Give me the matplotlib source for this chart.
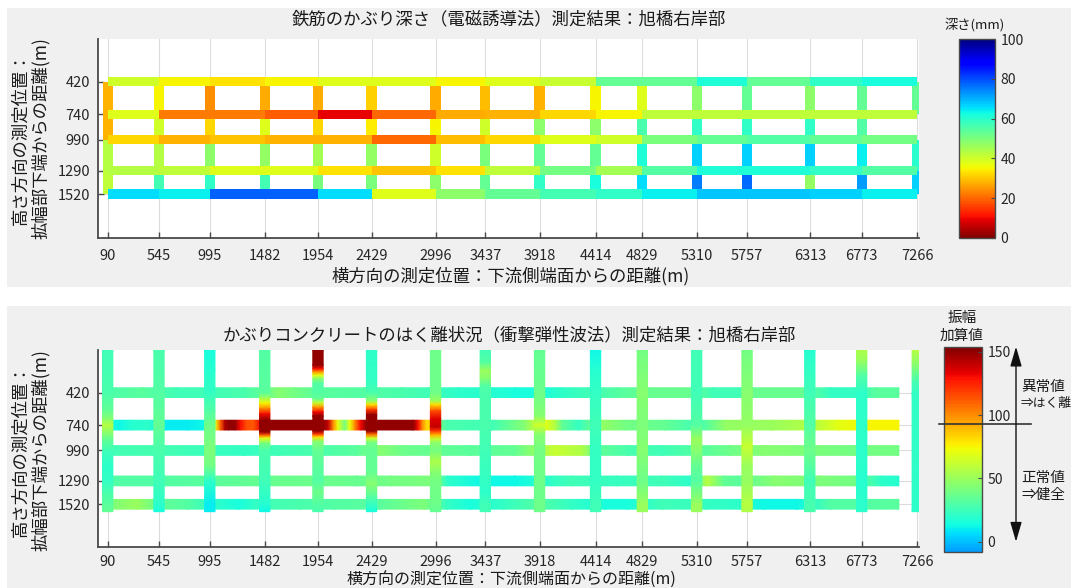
import numpy as np
import matplotlib
matplotlib.use("Agg")
import matplotlib.pyplot as plt
from matplotlib.colors import Normalize, ListedColormap
from matplotlib.patches import Rectangle, FancyArrowPatch, ArrowStyle
from matplotlib.lines import Line2D
from matplotlib.cm import ScalarMappable

plt.rcParams['font.family'] = ['Noto Sans CJK JP', 'DejaVu Sans']

# ---------------- data ----------------
x_pos = [90, 545, 995, 1482, 1954, 2429, 2996, 3437, 3918, 4414, 4829, 5310, 5757, 6313, 6773, 7266]
y_pos = [420, 740, 990, 1290, 1520]

# top chart: cover depth (mm), horizontal segments between columns (rows 420..1520)
top_h = [
    [40, 35, 33, 35, 38, 38, 35, 38, 41, 53, 53, 61, 53, 59, 62],
    [38, 22, 22, 19, 9, 20, 27, 28, 32, 35, 42, 42, 42, 42, 42],
    [32, 28, 30, 28, 28, 20, 29, 32, 38, 40, 50, 53, 55, 53, 51],
    [43, 42, 38, 38, 33, 30, 33, 42, 51, 45, 55, 61, 61, 59, 55],
    [66, 64, 78, 78, 66, 38, 48, 53, 57, 59, 64, 68, 68, 67, 64],
]
# top chart: vertical segments between rows, one list per column
top_v = [
    [28, 28, 43, 42], [35, 40, 43, 57], [24, 32, 48, 59], [27, 38, 47, 57],
    [27, 32, 45, 50], [31, 34, 47, 50], [27, 35, 40, 48], [29, 40, 50, 53],
    [28, 48, 53, 59], [35, 48, 53, 62], [38, 56, 61, 66], [48, 59, 67, 75],
    [53, 59, 67, 77], [48, 59, 67, 47], [53, 55, 64, 72], [53, np.nan, 60, 67],
]

# bottom chart: summed amplitude, readings along each row
bot_row_x = [
    [45, 400, 700, 995, 1300, 1482, 1600, 1750, 1954, 2372, 2700, 2934, 3200, 3500, 3700, 3900,
     4100, 4353, 4600, 4856, 5270, 5450, 5684, 5802, 6275, 6500, 6719, 6900, 7103],
    [45, 200, 300, 450, 600, 800, 950, 1010, 1045, 1090, 1130, 1160, 1220, 1265, 1320, 1380, 1440,
     1500, 2000, 2045, 2090, 2130, 2190, 2235, 2280, 2330, 2380, 2800, 2840, 2880, 2920, 2990,
     3050, 3100, 3500, 3791, 3880, 3969, 4060, 4116, 4264, 4471, 4678, 5033, 5329, 5566, 5980,
     6364, 6571, 6837, 7103],
    [45, 500, 995, 1300, 1600, 1954, 2300, 2500, 2700, 2996, 3300, 3700, 3900, 4050, 4300, 4414,
     4700, 5000, 5300, 5600, 5900, 6300, 6700, 7103],
    [45, 600, 995, 1482, 1954, 2300, 2600, 2996, 3100, 3400, 3700, 3900, 4200, 4600, 5000, 5250,
     5400, 5550, 5684, 6000, 6400, 6700, 6950, 7103],
    [45, 350, 545, 800, 995, 1250, 1482, 1800, 2100, 2500, 2900, 3100, 3300, 3600, 3900, 4200,
     4500, 4700, 5000, 5400, 5700, 5900, 6200, 6500, 6800, 7103],
]
bot_row_v = [
    [28, 32, 25, 26, 28, 35, 45, 40, 33, 30, 28, 26, 20, 18, 15, 15, 20, 25, 30, 36, 36, 25, 25,
     36, 36, 22, 22, 33, 33],
    [15, 12, 18, 20, 10, 10, 12, 30, 70, 110, 145, 150, 150, 130, 115, 112, 130, 150, 150, 140,
     100, 72, 40, 72, 100, 130, 150, 150, 130, 100, 80, 90, 35, 28, 25, 45, 60, 70, 55, 35, 22,
     48, 40, 35, 25, 48, 50, 58, 70, 75, 75],
    [25, 27, 24, 22, 26, 28, 32, 45, 38, 35, 33, 35, 50, 62, 55, 35, 28, 25, 30, 38, 45, 42, 40, 40],
    [30, 30, 33, 36, 37, 36, 40, 42, 20, 12, 12, 18, 25, 23, 25, 20, 58, 35, 33, 45, 42, 40, 20, 18],
    [40, 50, 35, 30, 22, 15, 25, 28, 30, 32, 42, 22, 15, 22, 30, 22, 15, 15, 25, 22, 20, 12, 12,
     30, 30, 33],
]
# bottom chart: readings along each column
bot_col_y = [
    [0, 420, 600, 680, 740, 800, 880, 990, 1140, 1290, 1405, 1520, 1593],
    [0, 420, 740, 990, 1290, 1520, 1593],
    [0, 200, 420, 600, 740, 990, 1140, 1290, 1520, 1593],
    [0, 420, 470, 525, 575, 630, 690, 810, 840, 870, 920, 990, 1290, 1520, 1593],
    [0, 150, 185, 215, 250, 285, 330, 420, 480, 520, 560, 610, 650, 800, 830, 860, 900, 990,
     1290, 1405, 1520, 1593],
    [0, 300, 420, 500, 540, 590, 640, 800, 830, 870, 910, 990, 1200, 1320, 1450, 1593],
    [0, 420, 500, 540, 600, 680, 760, 800, 840, 880, 920, 990, 1100, 1200, 1290, 1520, 1593],
    [0, 120, 200, 280, 350, 420, 740, 990, 1290, 1405, 1520, 1593],
    [0, 420, 650, 740, 830, 990, 1290, 1593],
    [0, 200, 420, 740, 990, 1290, 1520, 1593],
    [0, 420, 740, 990, 1290, 1520, 1593],
    [0, 420, 740, 880, 990, 1140, 1290, 1520, 1593],
    [0, 420, 740, 950, 1140, 1290, 1520, 1593],
    [0, 420, 740, 990, 1290, 1593],
    [0, 100, 250, 420, 740, 990, 1290, 1593],
    [0, 150, 300, 420, 1593],
]
bot_col_v = [
    [25, 28, 35, 45, 58, 48, 35, 25, 20, 22, 28, 33, 35],
    [28, 30, 35, 28, 25, 20, 15],
    [15, 18, 22, 30, 38, 42, 40, 20, 10, 10],
    [30, 32, 50, 75, 100, 130, 150, 150, 110, 70, 40, 28, 25, 18, 12],
    [150, 150, 130, 100, 70, 45, 30, 30, 35, 60, 95, 130, 150, 150, 120, 80, 45, 35, 30, 38, 30, 28],
    [20, 22, 28, 45, 80, 120, 150, 150, 110, 65, 40, 35, 35, 45, 30, 15],
    [38, 38, 50, 80, 115, 135, 140, 120, 90, 60, 45, 40, 55, 45, 40, 38, 35],
    [25, 30, 50, 45, 30, 28, 28, 25, 22, 20, 25, 25],
    [35, 38, 45, 65, 45, 40, 38, 38],
    [12, 18, 22, 25, 22, 22, 25, 25],
    [40, 45, 42, 45, 38, 50, 50],
    [25, 25, 30, 50, 45, 35, 30, 50, 50],
    [40, 45, 48, 62, 50, 48, 58, 55],
    [18, 25, 30, 38, 25, 28],
    [55, 50, 30, 20, 20, 20, 18, 20],
    [58, 45, 28, 22, 20],
]

top_title = '鉄筋のかぶり深さ（電磁誘導法）測定結果：旭橋右岸部'
bot_title = 'かぶりコンクリートのはく離状況（衝撃弾性波法）測定結果：旭橋右岸部'
xlabel_txt = '横方向の測定位置：下流側端面からの距離(m)'
ylabel_1 = '高さ方向の測定位置：'
ylabel_2 = '拡幅部下端からの距離(m)'
top_ticks = [0, 20, 40, 60, 80, 100]
bot_ticks = [0, 50, 100, 150]

# ---------------- figure ----------------
W, H = 1071, 588
fig = plt.figure(figsize=(W / 100, H / 100), dpi=100)
fig.patch.set_facecolor('white')


def fx(px):
    return px / W


def fy(py):
    return 1 - py / H


TXT = '#262626'
AXC = '#4a4a4a'

for (x0, y0, x1, y1) in [(7, 8, 1071, 287), (7, 306, 1071, 588)]:
    fig.add_artist(Rectangle((fx(x0), fy(y1)), fx(x1) - fx(x0), fy(y0) - fy(y1),
                             transform=fig.transFigure, facecolor='#f0f0f0',
                             edgecolor='none', zorder=-5))

cmap_top = plt.get_cmap('jet_r')
norm_top = Normalize(0, 100)
cmap_bot = ListedColormap(plt.get_cmap('jet')(np.linspace(0.28, 1.0, 256)))
norm_bot = Normalize(-8, 154)


def style_axes(ax, ylim):
    ax.set_facecolor('white')
    ax.set_xlim(7, 7281)
    ax.set_ylim(*ylim)
    ax.set_xticks(x_pos)
    ax.set_xticklabels([str(v) for v in x_pos])
    ax.set_yticks(y_pos)
    ax.set_yticklabels([str(v) for v in y_pos])
    ax.grid(True, color='#dcdcdc', lw=0.8)
    ax.set_axisbelow(True)
    for s in ['top', 'right']:
        ax.spines[s].set_visible(False)
    for s in ['left', 'bottom']:
        ax.spines[s].set_color(AXC)
        ax.spines[s].set_linewidth(1.3)
    ax.tick_params(direction='in', length=4, width=1, colors=AXC, labelcolor=TXT,
                   labelsize=10.5, pad=6)
    ax.tick_params(axis='x', pad=8)


HW = 45
# ---- top axes ----
ax1 = fig.add_axes([fx(98.3), fy(237.7), fx(919) - fx(98.3), fy(39.3) - fy(237.7)])
style_axes(ax1, (1947, 7))
for i, xc in enumerate(x_pos):
    C = np.ma.masked_invalid(np.array(top_v[i], dtype=float).reshape(-1, 1))
    ax1.pcolormesh([xc - HW, xc + HW], y_pos, C, cmap=cmap_top, norm=norm_top,
                   shading='flat', zorder=2)
for j, yc in enumerate(y_pos):
    C = np.array(top_h[j], dtype=float).reshape(1, -1)
    ax1.pcolormesh(x_pos, [yc - HW, yc + HW], C, cmap=cmap_top, norm=norm_top,
                   shading='flat', zorder=3)

# ---- bottom axes ----
ax2 = fig.add_axes([fx(98.3), fy(546.7), fx(919) - fx(98.3), fy(350) - fy(546.7)])
style_axes(ax2, (1938, 0))
ax2.tick_params(axis='x', pad=6)
HB = 48
for j, yc in enumerate(y_pos):
    v = np.array(bot_row_v[j], dtype=float)
    ax2.pcolormesh(np.array(bot_row_x[j], dtype=float), [yc - HB, yc + HB], np.vstack([v, v]),
                   cmap=cmap_bot, norm=norm_bot, shading='gouraud', zorder=2)
for i, xc in enumerate(x_pos):
    v = np.array(bot_col_v[i], dtype=float)
    ax2.pcolormesh([xc - 46, xc + 46], np.array(bot_col_y[i], dtype=float),
                   np.column_stack([v, v]), cmap=cmap_bot, norm=norm_bot,
                   shading='gouraud', zorder=3)

# ---- texts ----
for ycen, ttl in [(19, top_title), (335, bot_title)]:
    fig.text(fx(509), fy(ycen), ttl, ha='center', va='center', fontsize=12.5, color='#1a1a1a')
fig.text(fx(511), fy(276), xlabel_txt, ha='center', va='center', fontsize=12.5, color='#1a1a1a')
fig.text(fx(511), fy(579.5), xlabel_txt, ha='center', va='center', fontsize=11.5, color='#1a1a1a')
for ycen in [138.5, 450]:
    fig.text(fx(21), fy(ycen), ylabel_1, ha='center', va='center', rotation=90,
             fontsize=12.5, color='#1a1a1a')
    fig.text(fx(41), fy(ycen), ylabel_2, ha='center', va='center', rotation=90,
             fontsize=12.5, color='#1a1a1a')

# ---- colorbars ----
cax1 = fig.add_axes([fx(959.3), fy(237.7), fx(994.8) - fx(959.3), fy(39.3) - fy(237.7)])
cb1 = fig.colorbar(ScalarMappable(norm=norm_top, cmap=cmap_top), cax=cax1, ticks=top_ticks)
cax2 = fig.add_axes([fx(943.8), fy(551.7), fx(981.7) - fx(943.8), fy(346.7) - fy(551.7)])
cb2 = fig.colorbar(ScalarMappable(norm=norm_bot, cmap=cmap_bot), cax=cax2, ticks=bot_ticks)
for cb in (cb1, cb2):
    cb.outline.set_edgecolor(AXC)
    cb.outline.set_linewidth(1.0)
    cb.ax.tick_params(direction='in', length=3, width=0.8, colors=AXC, labelcolor=TXT,
                      labelsize=10, pad=4)

fig.text(fx(975), fy(25), '深さ(mm)', ha='center', va='center', fontsize=9.5, color='#1a1a1a')
fig.text(fx(962), fy(318), '振幅', ha='center', va='center', fontsize=10.5, color='#1a1a1a')
fig.text(fx(962), fy(336), '加算値', ha='center', va='center', fontsize=10.5, color='#1a1a1a')
fig.text(fx(1021), fy(387), '異常値', ha='left', va='center', fontsize=10.5, color='#1a1a1a')
fig.text(fx(1020), fy(404), '⇒はく離', ha='left', va='center', fontsize=9.2, color='#1a1a1a')
fig.text(fx(1021), fy(478), '正常値', ha='left', va='center', fontsize=10.5, color='#1a1a1a')
fig.text(fx(1021), fy(495), '⇒健全', ha='left', va='center', fontsize=10.5, color='#1a1a1a')

fig.add_artist(Line2D([fx(938.6), fx(1031)], [fy(424), fy(424)], transform=fig.transFigure,
                      color='#333333', lw=1.2, zorder=5))
arr = FancyArrowPatch((fx(1016), fy(541.7)), (fx(1016), fy(346.7)), transform=fig.transFigure,
                      arrowstyle=ArrowStyle('<|-|>', head_length=1.2, head_width=0.35),
                      mutation_scale=10, color='#111111', lw=1.0, shrinkA=0, shrinkB=0, zorder=5)
fig.add_artist(arr)

fig.savefig('out.png', dpi=100)
